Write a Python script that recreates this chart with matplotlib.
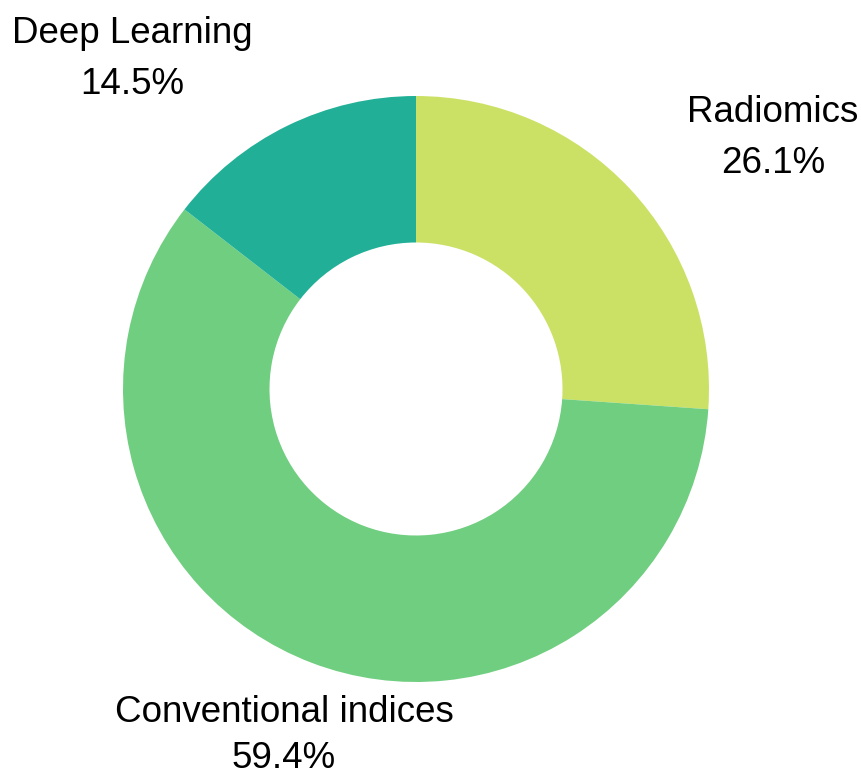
import matplotlib
matplotlib.use("Agg")
import matplotlib.pyplot as plt

categories = ["Radiomics", "Conventional indices", "Deep Learning"]
values = [26.1, 59.4, 14.5]
colors = ["#cbe166", "#70ce80", "#21b097"]

W, H = 861, 776
fig = plt.figure(figsize=(W / 100, H / 100), dpi=100)
ax = fig.add_axes([0, 0, 1, 1])

cx, cy, r = 416, H - 389, 293
ax.pie(values, colors=colors, startangle=90, counterclock=False,
       center=(cx, cy), radius=r, frame=True,
       wedgeprops=dict(width=r * 0.5, linewidth=0))
ax.set_xlim(0, W)
ax.set_ylim(0, H)
ax.set_aspect("equal")
ax.axis("off")

# label anchor positions (pixel coords from top): (x_center, name_baseline, pct_baseline)
label_pos = {
    "Radiomics": (773, 122, 173),
    "Conventional indices": (284, 722, 768),
    "Deep Learning": (132, 43, 94),
}
for cat, val in zip(categories, values):
    x, yb1, yb2 = label_pos[cat]
    ax.text(x, H - yb1, cat, ha="center", va="baseline",
            fontsize=26.5, family="Liberation Sans", color="black")
    ax.text(x, H - yb2, f"{val:.1f}%", ha="center", va="baseline",
            fontsize=26.5, family="Liberation Sans", color="black")

fig.savefig("out.png", dpi=100)
